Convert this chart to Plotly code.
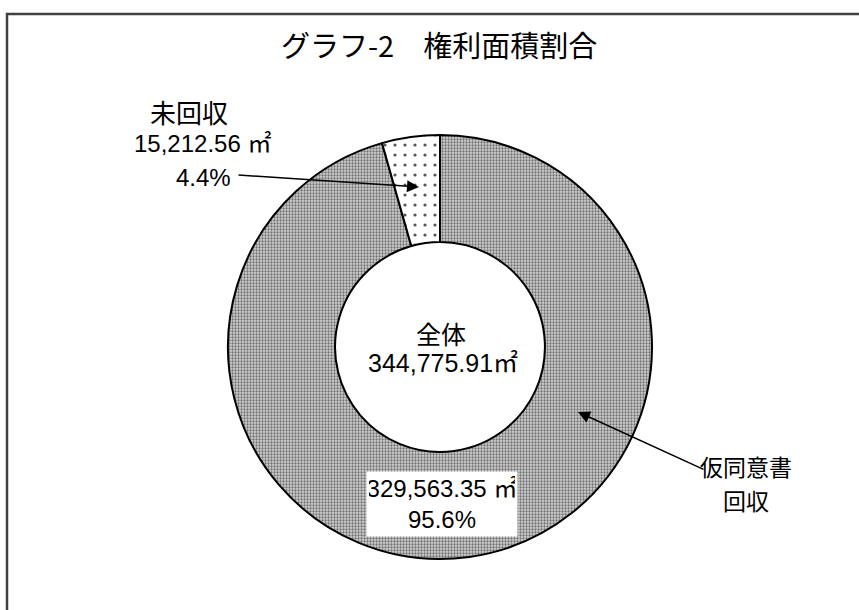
import plotly.graph_objects as go

# ---- data ----
labels = ["仮同意書回収", "未回収"]
values = [329563.35, 15212.56]
label_lines = [["仮同意書", "回収"], ["未回収"]]
title_text = "グラフ-2　権利面積割合"
center_label = "全体"
unit = "㎡"

total = sum(values)
pcts = [v / total * 100 for v in values]

W, H = 859, 610
FONT = "Liberation Sans, Noto Sans CJK JP"
CJK = "Noto Sans CJK JP"

def px(x):
    return x / W

def py(y):
    return 1 - y / H

cx, cy, R = 440, 347, 212

fig = go.Figure()
fig.add_trace(go.Pie(
    labels=labels,
    values=values,
    sort=False,
    direction="clockwise",
    rotation=0,
    hole=0.495,
    textinfo="none",
    hoverinfo="label+value+percent",
    showlegend=False,
    domain=dict(x=[px(cx - R), px(cx + R)], y=[py(cy + R), py(cy - R)]),
    marker=dict(
        colors=["#a6a6a6", "#ffffff"],
        line=dict(color="#000000", width=2),
        pattern=dict(
            shape=[".", "."],
            fgcolor=["#707070", "#555555"],
            bgcolor=["#d2d2d2", "#ffffff"],
            size=[3, 10],
            solidity=[0.45, 0.08],
        ),
    ),
))

ann = []
fs = 24
# title
ann.append(dict(x=px(439), y=py(44), text=title_text, showarrow=False,
                font=dict(size=29, family=CJK, color="#000")))
# center
ann.append(dict(x=px(441), y=py(333), text=center_label, showarrow=False,
                font=dict(size=25, family=CJK, color="#000")))
ann.append(dict(x=px(443), y=py(363), text=f"{total:,.2f}{unit}", showarrow=False,
                font=dict(size=25, family=FONT, color="#000")))
# small slice label
ann.append(dict(x=px(189), y=py(112), text=label_lines[1][0], showarrow=False,
                font=dict(size=26, family=CJK, color="#000")))
ann.append(dict(x=px(202), y=py(144), text=f"{values[1]:,.2f} {unit}", showarrow=False,
                font=dict(size=fs, family=FONT, color="#000")))
ann.append(dict(x=px(203), y=py(178), text=f"{pcts[1]:.1f}%", showarrow=False,
                font=dict(size=fs, family=FONT, color="#000")))
# big slice value box
ann.append(dict(x=px(442), y=py(504),
                text=f"{values[0]:,.2f} {unit}<br>{pcts[0]:.1f}%",
                showarrow=False, bgcolor="#ffffff", width=146, height=60,
                borderpad=2, align="center",
                font=dict(size=fs, family=FONT, color="#000")))
# big slice label
ann.append(dict(x=px(746), y=py(466), text=label_lines[0][0], showarrow=False,
                font=dict(size=23, family=CJK, color="#000")))
ann.append(dict(x=px(746), y=py(500), text=label_lines[0][1], showarrow=False,
                font=dict(size=23, family=CJK, color="#000")))

for a in ann:
    a["xanchor"] = "center"
    a["yanchor"] = "middle"

# arrows
ann.append(dict(x=px(419), y=py(187), text="",
                showarrow=True, ax=237 - 419, ay=175 - 187,
                arrowhead=2, arrowsize=1.6, arrowwidth=1.5, arrowcolor="#000"))
ann.append(dict(x=px(578), y=py(412), text="",
                showarrow=True, ax=705 - 578, ay=470 - 412,
                arrowhead=2, arrowsize=1.6, arrowwidth=1.5, arrowcolor="#000"))

for a in ann:
    a.setdefault("xref", "paper")
    a.setdefault("yref", "paper")

fig.update_layout(
    width=W, height=H,
    margin=dict(l=0, r=0, t=0, b=0),
    paper_bgcolor="#ffffff",
    plot_bgcolor="#ffffff",
    annotations=ann,
    shapes=[dict(type="rect", xref="paper", yref="paper",
                 x0=px(7), x1=1.02, y0=-0.02, y1=py(14),
                 line=dict(color="#404040", width=2.5), layer="below")],
)

fig.write_html("out.html", config={"displayModeBar": False},
               post_script="document.body.style.margin='0';document.body.style.overflow='hidden';")
